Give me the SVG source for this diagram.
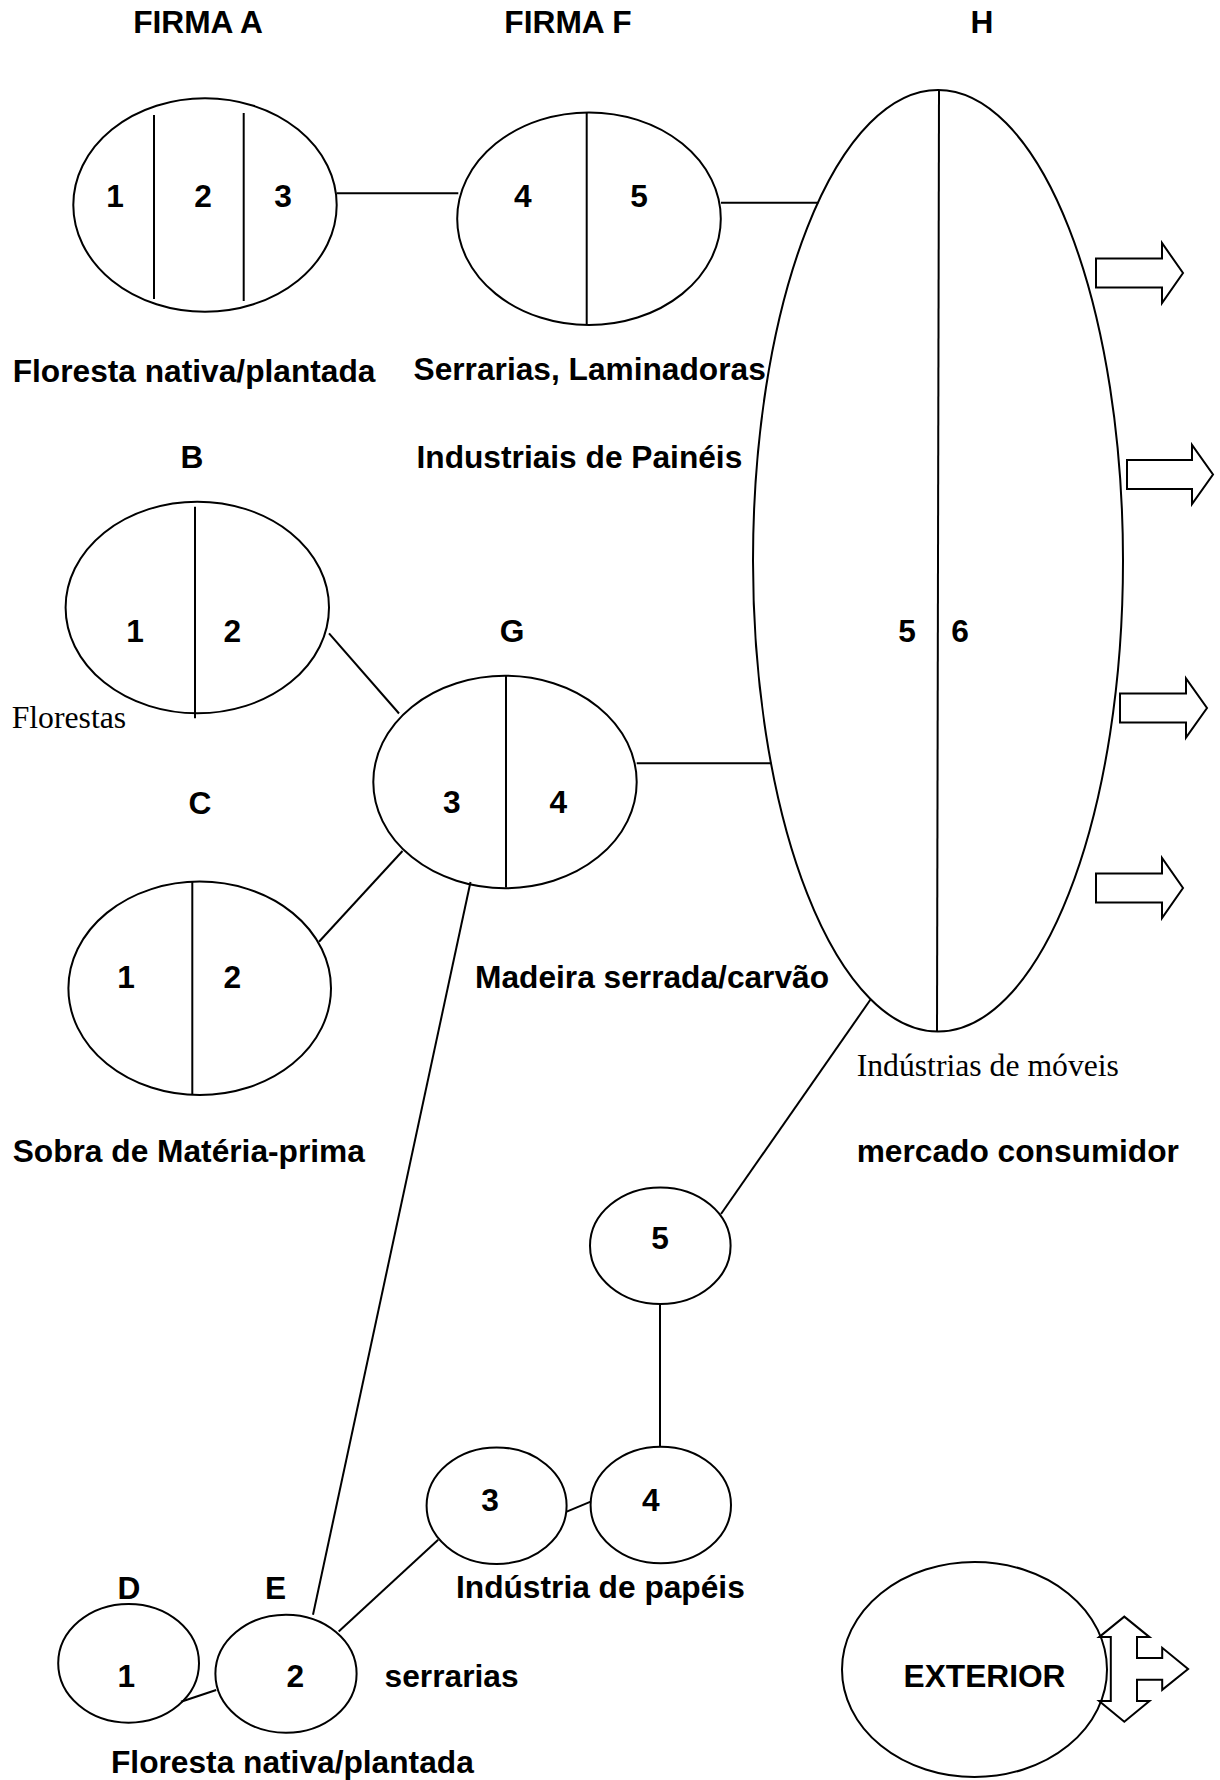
<svg xmlns="http://www.w3.org/2000/svg" width="1220" height="1780" viewBox="0 0 1220 1780">
<style>
.n{fill:none;stroke:#000;stroke-width:2}
.w{fill:#fff;stroke:#000;stroke-width:2}
.l{stroke:#000;stroke-width:2;fill:none}
.b{font-family:"Liberation Sans",Arial,sans-serif;font-weight:bold;font-size:31.7px;fill:#000}
.s{font-family:"Liberation Serif","Times New Roman",serif;font-size:31.7px;fill:#000}
.m{text-anchor:middle}
</style>
<rect width="1220" height="1780" fill="#fff"/>
<g id="connectors">
<line class="l" x1="336.7" y1="193.3" x2="458.3" y2="193.3"/>
<line class="l" x1="721" y1="202.7" x2="818.3" y2="202.7"/>
<line class="l" x1="329" y1="633.3" x2="399" y2="713.5"/>
<line class="l" x1="402.5" y1="851" x2="319" y2="941.7"/>
<line class="l" x1="636.7" y1="763.3" x2="771.5" y2="763.3"/>
<line class="l" x1="470.5" y1="882" x2="313" y2="1614.7"/>
<line class="l" x1="870.7" y1="999.3" x2="721" y2="1214"/>
<line class="l" x1="660" y1="1304" x2="660" y2="1446.7"/>
<line class="l" x1="566.7" y1="1511.7" x2="590.7" y2="1501.7"/>
<line class="l" x1="338.7" y1="1631.6" x2="438.2" y2="1539.8"/>
<line class="l" x1="181" y1="1701.8" x2="216.2" y2="1690"/>
</g>
<g id="titles">
<text class="b m" x="198" y="33.3">FIRMA A</text>
<text class="b m" x="568" y="33.3">FIRMA F</text>
<text class="b m" x="982" y="33.3">H</text>
<text class="b" x="12.7" y="381.5">Floresta nativa/plantada</text>
<text class="b" x="413.5" y="380">Serrarias, Laminadoras</text>
<text class="b m" x="192" y="467.6">B</text>
<text class="b" x="416.5" y="467.6">Industriais de Painéis</text>
<text class="b m" x="512" y="641.7">G</text>
<text class="s" x="11.7" y="728.3">Florestas</text>
<text class="b m" x="200" y="814.3">C</text>
<text class="b" x="475" y="988.3">Madeira serrada/carvão</text>
<text class="s" x="856.7" y="1076">Indústrias de móveis</text>
<text class="b" x="12.7" y="1161.7">Sobra de Matéria-prima</text>
<text class="b" x="856.7" y="1161.7">mercado consumidor</text>
<text class="b" x="456" y="1597.8">Indústria de papéis</text>
<text class="b m" x="129" y="1599">D</text>
<text class="b m" x="275.5" y="1599">E</text>
<text class="b" x="384.6" y="1687">serrarias</text>
<text class="b" x="111" y="1773.3">Floresta nativa/plantada</text>
</g>
<g id="nodeA">
<ellipse class="n" cx="205" cy="205" rx="131.7" ry="106.7"/>
<line class="l" x1="154" y1="115" x2="154" y2="299"/>
<line class="l" x1="243.7" y1="113" x2="243.7" y2="301"/>
<text class="b m" x="115" y="206.7">1</text>
<text class="b m" x="203" y="206.7">2</text>
<text class="b m" x="283" y="206.7">3</text>
</g>
<g id="nodeF">
<ellipse class="n" cx="589" cy="218.7" rx="131.8" ry="106.3"/>
<line class="l" x1="586.7" y1="112.4" x2="586.7" y2="325"/>
<text class="b m" x="522.7" y="206.7">4</text>
<text class="b m" x="639" y="206.7">5</text>
</g>
<g id="nodeH">
<ellipse class="n" cx="938" cy="560.8" rx="185" ry="470.8"/>
<line class="l" x1="939" y1="90" x2="937" y2="1031.6"/>
<text class="b m" x="907" y="642">5</text>
<text class="b m" x="960" y="642">6</text>
</g>
<g id="exportArrows">
<polygon class="w" points="1096,258.5 1162,258.5 1162,243 1183,273 1162,303 1162,287.5 1096,287.5"/>
<polygon class="w" points="1127,460 1192,460 1192,445 1213,474.5 1192,504 1192,489 1127,489"/>
<polygon class="w" points="1120,693.5 1186,693.5 1186,678.5 1207,708 1186,737.5 1186,722.5 1120,722.5"/>
<polygon class="w" points="1096,873.5 1162,873.5 1162,858 1183,888 1162,918 1162,902.5 1096,902.5"/>
</g>
<g id="nodeB">
<ellipse class="n" cx="197.3" cy="607.5" rx="131.7" ry="105.8"/>
<line class="l" x1="195" y1="506.7" x2="195" y2="718.3"/>
<text class="b m" x="135" y="642.3">1</text>
<text class="b m" x="232.3" y="642.3">2</text>
</g>
<g id="nodeG">
<ellipse class="n" cx="505" cy="782" rx="131.7" ry="106.2"/>
<line class="l" x1="506" y1="676" x2="506" y2="887.5"/>
<text class="b m" x="451.7" y="813.3">3</text>
<text class="b m" x="558.3" y="813.3">4</text>
</g>
<g id="nodeC">
<ellipse class="n" cx="199.7" cy="988.3" rx="131.3" ry="106.7"/>
<line class="l" x1="192.3" y1="881.7" x2="192.3" y2="1095"/>
<text class="b m" x="126" y="988.3">1</text>
<text class="b m" x="232.3" y="988.3">2</text>
</g>
<g id="node5">
<ellipse class="n" cx="660.3" cy="1245.7" rx="70.3" ry="58.3"/>
<text class="b m" x="660" y="1249.3">5</text>
</g>
<g id="node4">
<ellipse class="n" cx="660.8" cy="1505" rx="70.2" ry="58.3"/>
<text class="b m" x="650.7" y="1510.7">4</text>
</g>
<g id="node3">
<ellipse class="n" cx="496.6" cy="1505.7" rx="70" ry="58.3"/>
<text class="b m" x="490" y="1511">3</text>
</g>
<g id="nodeD">
<ellipse class="n" cx="128.6" cy="1663.3" rx="70.4" ry="59.4"/>
<text class="b m" x="126.3" y="1687">1</text>
</g>
<g id="nodeE">
<ellipse class="n" cx="286" cy="1673.7" rx="70.6" ry="59"/>
<text class="b m" x="295.4" y="1687">2</text>
</g>
<g id="nodeExterior">
<polygon class="w" points="1124.3,1616.6 1149.5,1637.1 1137,1637.1 1137,1657.9 1162.2,1657.9 1162.2,1647.8 1188.1,1669 1162.2,1689.9 1162.2,1679.8 1137,1679.8 1137,1700.9 1149.5,1700.9 1124.3,1721.8 1099.1,1700.9 1110.8,1700.9 1110.8,1637.1 1099.1,1637.1"/>
<ellipse class="n" cx="974.5" cy="1669.5" rx="132.5" ry="107.5"/>
<text class="b m" x="984.5" y="1686.5">EXTERIOR</text>
</g>
</svg>
